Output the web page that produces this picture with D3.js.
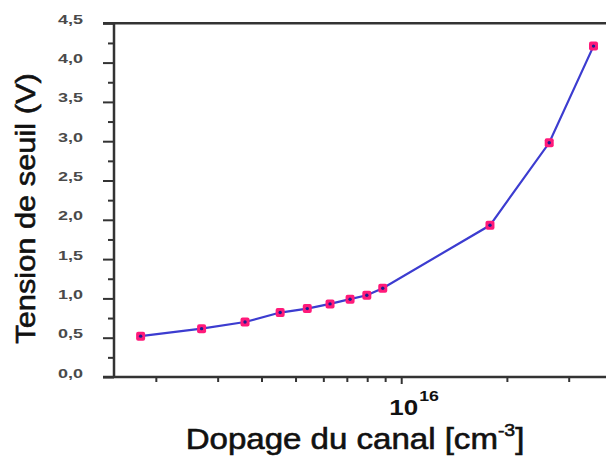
<!DOCTYPE html>
<html>
<head>
<meta charset="utf-8">
<script src="https://cdn.jsdelivr.net/npm/d3@7/dist/d3.min.js"></script>
<style>
  html, body { margin: 0; padding: 0; background: #fff; }
  svg { display: block; font-family: "Liberation Sans", Arial, sans-serif; }
</style>
</head>
<body>
<svg id="chart" width="606" height="457"></svg>
<script>
// Channel doping (cm^-3) and threshold voltage (V)
const dopage = [1.81e15, 2.70e15, 3.59e15, 4.52e15, 5.40e15, 6.27e15, 7.15e15, 7.98e15, 8.86e15, 1.79e16, 2.64e16, 3.53e16];
const tension = [0.52, 0.615, 0.70, 0.82, 0.87, 0.93, 0.99, 1.04, 1.13, 1.93, 2.98, 4.21];

// Axis ticks
const xTicks = [2e15, 3e15, 4e15, 5e15, 6e15, 7e15, 8e15, 9e15, 1e16, 2e16, 3e16, 4e16];
const yMajor = [0, 0.5, 1, 1.5, 2, 2.5, 3, 3.5, 4, 4.5];
const yMajorLabels = ["0,0", "0,5", "1,0", "1,5", "2,0", "2,5", "3,0", "3,5", "4,0", "4,5"];
const yMinor = [0.25, 0.75, 1.25, 1.75, 2.25, 2.75, 3.25, 3.75, 4.25];

const svg = d3.select("#chart");
const plotLeft = 114, plotTop = 23.3, plotBottom = 377;

const x = d3.scaleLog().domain([1.52e15, 4.2e16]).range([plotLeft, 620]);
const y = d3.scaleLinear().domain([0, 4.5]).range([plotBottom, plotTop]);

const axisColor = "#333";

// Y axis: minor and major ticks
const gyMinor = svg.append("g").attr("transform", `translate(${plotLeft},0)`)
  .call(d3.axisLeft(y).tickValues(yMinor).tickSize(6).tickFormat(""));
const gyMajor = svg.append("g").attr("transform", `translate(${plotLeft},0)`)
  .call(d3.axisLeft(y).tickValues(yMajor).tickSize(11)
    .tickFormat((d, i) => yMajorLabels[i]));
[gyMinor, gyMajor].forEach(g => {
  g.select(".domain").remove();
  g.selectAll(".tick line").attr("stroke", axisColor).attr("stroke-width", 2);
});
gyMajor.selectAll(".tick text")
  .attr("x", -31).attr("dy", "0")
  .attr("text-anchor", "end")
  .attr("fill", "#4a4a4a")
  .attr("font-size", 12).attr("font-weight", "bold")
  .attr("textLength", 25).attr("lengthAdjust", "spacingAndGlyphs");

// X axis ticks (log scale)
const gx = svg.append("g").attr("transform", `translate(0,${plotBottom})`)
  .call(d3.axisBottom(x).tickValues(xTicks).tickSize(5).tickFormat(""));
gx.select(".domain").remove();
gx.selectAll(".tick line").attr("stroke", axisColor).attr("stroke-width", 2)
  .attr("y2", d => d === 1e16 ? 7 : 5);

// Frame lines
svg.append("line").attr("x1", plotLeft).attr("x2", plotLeft).attr("y1", y(4.5)).attr("y2", y(0))
  .attr("stroke", axisColor).attr("stroke-width", 2.5);
[4.5, 0].forEach(v => {
  svg.append("line").attr("x1", 103).attr("x2", 606).attr("y1", y(v)).attr("y2", y(v))
    .attr("stroke", axisColor).attr("stroke-width", 2.5);
});

// 10^16 tick label
const lbl = svg.append("text")
  .attr("transform", `translate(${x(1e16) - 12},415) scale(1.18,1)`)
  .attr("font-size", 22).attr("font-weight", "bold").attr("fill", "#111");
lbl.append("tspan").text("10");
lbl.append("tspan").attr("font-size", 15).attr("dy", -14).attr("dx", 1).text("16");

// Axis titles
const xt = svg.append("text")
  .attr("transform", "translate(355,449) scale(1.14,1)")
  .attr("text-anchor", "middle").attr("font-size", 29).attr("fill", "#111")
  .attr("stroke", "#111").attr("stroke-width", 0.6);
xt.append("tspan").text("Dopage du canal [cm");
xt.append("tspan").attr("font-size", 17).attr("dy", -13).text("-3");
xt.append("tspan").attr("dy", 13).text("]");

svg.append("text")
  .attr("transform", "translate(35,208.5) rotate(-90) scale(1.1,1)")
  .attr("text-anchor", "middle").attr("font-size", 28).attr("fill", "#111")
  .attr("stroke", "#111").attr("stroke-width", 0.6)
  .text("Tension de seuil (V)");

// Data line and markers
const pts = dopage.map((d, i) => [d, tension[i]]);
svg.append("path").datum(pts)
  .attr("fill", "none").attr("stroke", "#3c3cd0").attr("stroke-width", 2.2)
  .attr("d", d3.line().x(d => x(d[0])).y(d => y(d[1])));

svg.append("g").selectAll("rect").data(pts).join("rect")
  .attr("x", d => x(d[0]) - 4.5).attr("y", d => y(d[1]) - 4.5)
  .attr("width", 9).attr("height", 9).attr("rx", 2)
  .attr("fill", "#ff1a7a");
svg.append("g").selectAll("circle").data(pts).join("circle")
  .attr("cx", d => x(d[0])).attr("cy", d => y(d[1])).attr("r", 1.7)
  .attr("fill", "#1c1c90");
</script>
</body>
</html>
